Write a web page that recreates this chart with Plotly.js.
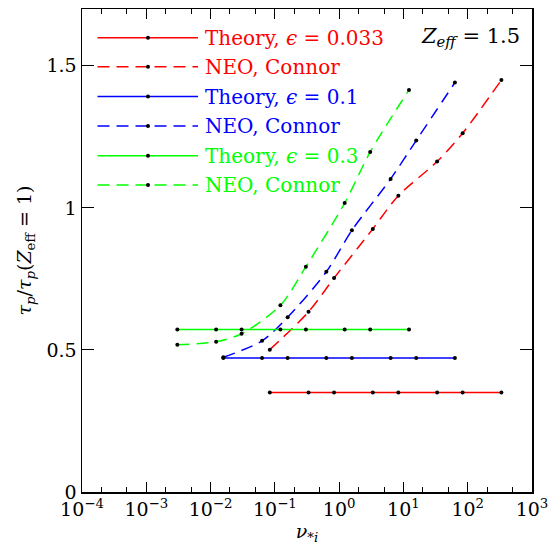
<!DOCTYPE html>
<html>
<head>
<meta charset="utf-8">
<script src="https://cdn.plot.ly/plotly-3.0.1.min.js"></script>
<style>html,body{margin:0;padding:0;background:#fff;}#chart{width:550px;height:548px;}</style>
</head>
<body>
<div id="chart"></div>
<script>
// ---- data ----
const nuEps033 = [0.0834, 0.334, 0.834, 3.34, 8.34, 33.4, 83.4, 334];
const nuEps01  = [0.0158, 0.0632, 0.158, 0.632, 1.58, 6.32, 15.8, 63.2];
const nuEps03  = [0.00304, 0.0122, 0.0304, 0.122, 0.304, 1.22, 3.04, 12.2];

const theoryEps033 = [0.35, 0.35, 0.35, 0.35, 0.35, 0.35, 0.35, 0.35];
const theoryEps01  = [0.472, 0.472, 0.472, 0.472, 0.472, 0.472, 0.472, 0.472];
const theoryEps03  = [0.572, 0.572, 0.572, 0.572, 0.572, 0.572, 0.572, 0.572];

const neoEps033 = [0.501, 0.634, 0.753, 0.926, 1.043, 1.163, 1.263, 1.450];
const neoEps01  = [0.474, 0.532, 0.615, 0.775, 0.921, 1.102, 1.237, 1.441];
const neoEps03  = [0.518, 0.529, 0.557, 0.657, 0.793, 1.017, 1.197, 1.415];

const seriesLabels = ["Theory, <i>ϵ</i> = 0.033", "NEO, Connor", "Theory, <i>ϵ</i> = 0.1", "NEO, Connor", "Theory, <i>ϵ</i> = 0.3", "NEO, Connor"];
const xTickVals = [1e-4, 1e-3, 1e-2, 1e-1, 1e0, 1e1, 1e2, 1e3];
const xTickText = ["10<sup>−4</sup>", "10<sup>−3</sup>", "10<sup>−2</sup>", "10<sup>−1</sup>", "10<sup>0</sup>", "10<sup>1</sup>", "10<sup>2</sup>", "10<sup>3</sup>"];
const yTickVals = [0, 0.5, 1, 1.5];
const yTickText = ["0", "0.5", "1", "1.5"];

const RED = "#ff0000", BLUE = "#0000ff", GREEN = "#00ff00";
const DASH = "12px,7px";
const FONT = "DejaVu Serif";

function tr(x, y, color, dashed) {
  return {
    x: x, y: y, type: "scatter", mode: "lines+markers",
    line: {color: color, width: 1.5, dash: dashed ? DASH : "solid", shape: dashed ? "spline" : "linear", smoothing: 0.8},
    marker: {color: "#000", size: 4},
    showlegend: false, hoverinfo: "skip"
  };
}

const traces = [
  tr(nuEps033, theoryEps033, RED, false),
  tr(nuEps033, neoEps033, RED, true),
  tr(nuEps01, theoryEps01, BLUE, false),
  tr(nuEps01, neoEps01, BLUE, true),
  tr(nuEps03, theoryEps03, GREEN, false),
  tr(nuEps03, neoEps03, GREEN, true)
];

// custom legend (long sample lines like the reference)
const legColors = [RED, RED, BLUE, BLUE, GREEN, GREEN];
const legDashed = [false, true, false, true, false, true];
const W = 550, H = 548, L = 82, R = 18, T = 9, B = 56;
const pw = W - L - R, ph = H - T - B;
const px = v => (v - L) / pw;
const py = v => (H - B - v) / ph;
const rowY = [37.7, 66.7, 96.5, 126, 155.7, 185];
const shapes = [], annotations = [];
for (let i = 0; i < seriesLabels.length; i++) {
  const yy = py(rowY[i]);
  shapes.push({type: "line", xref: "paper", yref: "paper", x0: px(97.5), x1: px(198), y0: yy, y1: yy,
    line: {color: legColors[i], width: 1.5, dash: legDashed[i] ? DASH : "solid"}});
  shapes.push({type: "circle", xref: "paper", yref: "paper", x0: px(146), x1: px(150), y0: py(rowY[i] + 2), y1: py(rowY[i] - 2),
    fillcolor: "#000", line: {width: 0}});
  annotations.push({xref: "paper", yref: "paper", x: px(203), y: yy, xanchor: "left", yanchor: "middle",
    text: seriesLabels[i], showarrow: false, font: {family: FONT, size: 20, color: legColors[i]}});
}
annotations.push({xref: "paper", yref: "paper", x: px(522), y: py(37.5), xanchor: "right", yanchor: "middle",
  text: "<i>Z<sub>eff</sub></i> = 1.5", showarrow: false, font: {family: FONT, size: 21, color: "#000"}});

const layout = {
  width: W, height: H,
  margin: {l: L, r: R, t: T, b: B},
  paper_bgcolor: "#fff", plot_bgcolor: "#fff",
  font: {family: FONT, size: 19, color: "#000"},
  showlegend: false,
  xaxis: {
    type: "log", range: [-4, 3],
    tickvals: xTickVals, ticktext: xTickText,
    ticks: "inside", ticklen: 10, tickwidth: 1, tickcolor: "#000",
    minor: {ticks: "inside", ticklen: 5, tickwidth: 1, tickcolor: "#000", showgrid: false},
    showline: true, linecolor: "#000", linewidth: 1.5, mirror: "ticks",
    showgrid: false, zeroline: false,
    tickfont: {family: FONT, size: 19},
    title: {text: "<i>ν</i><sub><i>*i</i></sub>", font: {family: FONT, size: 19}, standoff: 4}
  },
  yaxis: {
    range: [0, 1.7],
    tickvals: yTickVals, ticktext: yTickText,
    ticks: "inside", ticklen: 12, tickwidth: 1, tickcolor: "#000",
    showline: true, linecolor: "#000", linewidth: 1.5, mirror: "ticks",
    showgrid: false, zeroline: false,
    tickfont: {family: FONT, size: 19},
    title: {text: "<i>τ<sub>p</sub></i>/<i>τ<sub>p</sub></i>(<i>Z</i><sub>eff</sub> = 1)", font: {family: FONT, size: 19}, standoff: 10}
  },
  shapes: shapes,
  annotations: annotations
};

Plotly.newPlot("chart", traces, layout, {staticPlot: true, displayModeBar: false});
</script>
</body>
</html>
